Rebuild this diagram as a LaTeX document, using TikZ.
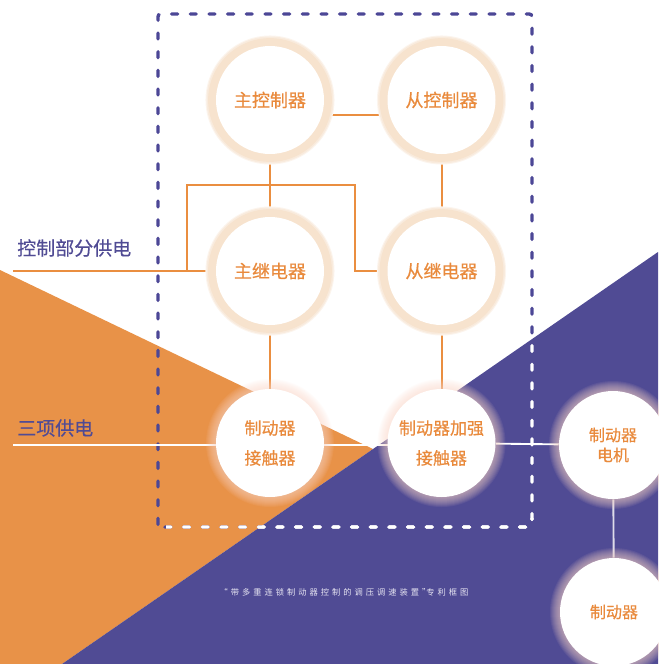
\documentclass[tikz,border=0pt]{standalone}
\usepackage{fontspec}
\setmainfont{Noto Sans CJK SC}[FakeBold=0.45]
\newfontfamily\capfont[LetterSpace=36]{Noto Sans CJK SC}
\usetikzlibrary{calc}
\definecolor{org}{RGB}{232,146,72}
\definecolor{pur}{RGB}{80,75,148}
\definecolor{txto}{RGB}{233,138,60}
\definecolor{ringc}{RGB}{247,227,206}
\definecolor{glowc}{RGB}{250,214,200}
\definecolor{dashc}{RGB}{76,71,150}
\definecolor{capc}{RGB}{230,228,242}
\definecolor{lnc}{RGB}{234,142,64}
\definecolor{grl}{RGB}{222,220,234}
\pgfdeclarelayer{bgl}\pgfdeclarelayer{linel}\pgfdeclarelayer{ringl}
\pgfsetlayers{bgl,linel,ringl,main}
\begin{document}
\begin{tikzpicture}[x=0.75pt,y=-0.75pt,
  bubble/.style={circle,fill=white,minimum size=81pt,inner sep=0pt,text=txto,align=center},
  bigtxt/.style={font=\fontsize{13.5pt}{16pt}\selectfont},
  midtxt/.style={font=\fontsize{12.75pt}{22.5pt}\selectfont},
  smltxt/.style={font=\fontsize{12pt}{15pt}\selectfont},
  sidelab/.style={anchor=west,inner sep=0pt,text=pur,font=\fontsize{14.25pt}{16pt}\selectfont},
  oline/.style={draw=lnc,line width=1.5pt},
  othick/.style={draw=lnc,line width=2.1pt},
  wline/.style={draw=white,line width=2.1pt},
  gline/.style={draw=grl,line width=1.4pt},
  dashbox/.style={line width=2.5pt,line cap=round,dash pattern=on 4.5pt off 9.5pt,rounded corners=2pt},
]
\useasboundingbox (0,0) rectangle (658,664);

% nodes
\node[bubble,bigtxt] (m1) at (270,100) {\raisebox{-5pt}{主控制器}};
\node[bubble,bigtxt] (m2) at (441.5,100) {\raisebox{-5pt}{从控制器}};
\node[bubble,bigtxt] (r1) at (270,271) {主继电器};
\node[bubble,bigtxt] (r2) at (441.5,271) {从继电器};
\node[bubble,midtxt] (k1) at (270,443) {制动器\\接触器};
\node[bubble,midtxt] (k2) at (441.5,443) {制动器加强\\接触器};
\node[bubble,smltxt] (mot) at (613,445) {制动器\\电机};
\node[bubble,smltxt] (brk) at (614,612) {制动器};

\node[sidelab] (lab1) at (17,248) {控制部分供电};
\node[sidelab] (lab2) at (17,428) {三项供电};
\node[text=capc,inner sep=0pt,font=\capfont\fontsize{6.2pt}{7pt}\selectfont] (cap) at (344,592) {“带多重连锁制动器控制的调压调速装置”\kern-3pt 专利框图};

\coordinate (ctlin) at (13,271);
\coordinate (pwin) at (13,445);
\coordinate (b1) at (187,185);
\coordinate (b2) at (355,185);

\begin{pgfonlayer}{bgl}
  \fill[org] (0,270) -- (373,449) -- (62,664) -- (0,664) -- cycle;
  \fill[pur] (62,664) -- (658,252) -- (658,664) -- cycle;
\end{pgfonlayer}

\begin{pgfonlayer}{linel}
  % dashed frame
  \draw[dashbox,draw=dashc] (158,527) rectangle (532,14);
  \begin{scope}
    \clip (62,664) -- (658,252) -- (658,664) -- cycle;
    \draw[dashbox,draw=white] (158,527) rectangle (532,14);
  \end{scope}
  \begin{scope}
    \clip (166,518) rectangle (545,540);
    \draw[dashbox,draw=white] (158,527) rectangle (532,14);
  \end{scope}
  % connectors
  \draw[oline] ([yshift=-11.25pt]m1.center) -- ([yshift=-11.25pt]m2.center);
  \draw[oline] (m1) -- (r1);
  \draw[oline] (m2) -- (r2);
  \draw[oline] (r1) -- (k1);
  \draw[oline] (r2) -- (k2);
  \draw[oline] (ctlin -| b1) -- (b1) -- (b2) -- (b2 |- r2) -- (r2);
  \draw[othick] (ctlin) -- (r1);
  \draw[wline] (pwin) -- (pwin -| k2);
  \draw[gline,draw=white] (k2) -- (mot);
  \draw[gline] (mot) -- (brk);
\end{pgfonlayer}

\begin{pgfonlayer}{ringl}
  \foreach \n in {m1,m2,r1,r2}{
    \fill[ringc!35] (\n.center) circle (48.4pt);
    \fill[ringc!70] (\n.center) circle (47.6pt);
    \fill[ringc] (\n.center) circle (46.4pt);
  }
  \foreach \n in {k1,k2,mot,brk}{
    \foreach \r in {48,47.25,...,41}{
      \fill[glowc,opacity=0.08] (\n.center) circle (\r pt);
    }
  }
\end{pgfonlayer}
\end{tikzpicture}
\end{document}
